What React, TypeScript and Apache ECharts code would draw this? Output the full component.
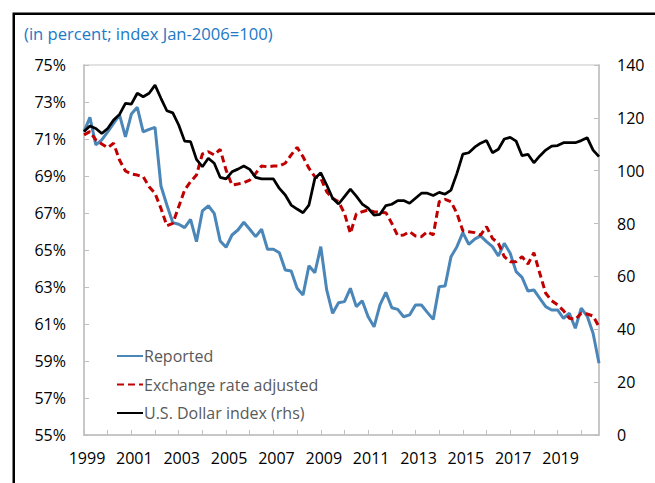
import React, { useEffect, useRef } from "react";
import * as echarts from "echarts";

const years = Array.from({ length: 22 }, (_, i) => 1999 + i);
const categories: string[] = years.flatMap((y) => ["Q1", "Q2", "Q3", "Q4"].map((q) => `${y}${q}`));

const leftTicks = { min: 55, max: 75, step: 2 };
const rightTicks = { min: 0, max: 140, step: 20 };

const reported = [
  71.39, 72.17, 70.68, 70.95, 71.39, 71.85, 72.3, 71.12, 72.35, 72.71,
  71.39, 71.52, 71.63, 68.46, 67.43, 66.48, 66.39, 66.21, 66.66, 65.45,
  67.11, 67.39, 66.98, 65.49, 65.15, 65.81, 66.08, 66.5, 66.12, 65.72,
  66.12, 65.04, 65.04, 64.85, 63.92, 63.86, 62.93, 62.57, 64.15, 63.77,
  65.18, 62.84, 61.58, 62.15, 62.21, 62.93, 61.94, 62.26, 61.39, 60.85,
  62.03, 62.71, 61.88, 61.79, 61.39, 61.49, 62.03, 62.03, 61.63, 61.25,
  63.02, 63.05, 64.64, 65.18, 65.94, 65.31, 65.59, 65.76, 65.45, 65.18,
  64.68, 65.36, 64.82, 63.83, 63.52, 62.78, 62.84, 62.39, 61.94, 61.76,
  61.76, 61.31, 61.58, 60.77, 61.85, 61.43, 60.5, 58.88,
];

const fxAdjusted = [
  71.22, 71.4, 70.95, 70.73, 70.53, 70.77, 69.86, 69.27, 69.11, 69.05,
  68.96, 68.42, 68.06, 67.25, 66.31, 66.44, 67.34, 68.24, 68.69, 69.05,
  70.19, 70.31, 70.14, 70.44, 69.32, 68.51, 68.57, 68.64, 68.78, 69.14,
  69.54, 69.5, 69.54, 69.54, 69.69, 70.14, 70.55, 70.04, 69.42, 68.96,
  68.88, 68.15, 67.79, 67.61, 66.98, 65.9, 66.95, 67.07, 67.16, 67.07,
  67.04, 67.02, 66.44, 65.77, 65.81, 65.99, 65.76, 65.72, 65.99, 65.81,
  67.61, 67.74, 67.61, 66.98, 66.04, 65.99, 65.94, 65.81, 66.26, 65.63,
  65.36, 64.64, 64.37, 64.37, 64.64, 64.24, 64.85, 63.74, 62.66, 62.26,
  62.03, 61.72, 61.31, 61.25, 61.58, 61.54, 61.43, 60.85,
];

const usdIndex = [
  114.8, 116.9, 116, 114.1, 116, 119.2, 121.3, 125.5, 125.2, 129.3,
  128, 129.3, 132.4, 127.4, 122.7, 121.9, 117.3, 111.2, 111, 104.3,
  101.5, 104.7, 102.8, 97.5, 96.9, 99.6, 100.6, 101.8, 100.5, 97.5,
  96.9, 96.9, 96.9, 93.3, 90.8, 87, 85.5, 84.1, 87, 97.1,
  99.2, 94.6, 89.6, 87.4, 90.2, 93, 90.4, 87.4, 85.8, 83.2,
  83.5, 86.8, 87.3, 88.7, 88.7, 87.7, 89.6, 91.5, 91.5, 90.6,
  91.8, 91.1, 92.7, 99, 106.3, 106.8, 108.9, 110.4, 111.4, 106.8,
  108.1, 112, 112.6, 111.2, 105.7, 106.2, 103, 105.6, 107.8, 109.3,
  109.5, 110.6, 110.6, 110.6, 111.4, 112.5, 107.8, 105.3,
];

const seriesNames = ["Reported", "Exchange rate adjusted", "U.S. Dollar index (rhs)"];
const subtitle = "(in percent; index Jan-2006=100)";

const FONT = "'Open Sans', 'Noto Sans', sans-serif";

export default function App() {
  const ref = useRef<HTMLDivElement>(null);
  useEffect(() => {
    if (!ref.current) return;
    const chart = echarts.init(ref.current, undefined, { renderer: "svg" });
    const axisGrey = "#bfbfbf";
    chart.setOption({
      animation: false,
      backgroundColor: "#ffffff",
      textStyle: { fontFamily: FONT },
      title: {
        text: subtitle,
        left: 24,
        top: 25,
        padding: 0,
        textStyle: { fontSize: 16.6, fontWeight: "normal", color: "#2079c7", fontFamily: FONT },
      },
      graphic: [
        {
          type: "rect",
          shape: { x: 13.75, y: 13.75, width: 720, height: 540 },
          style: { fill: "none", stroke: "#000", lineWidth: 2.5 },
          silent: true,
        },
      ],
      grid: {
        left: 84,
        top: 65,
        right: 56,
        bottom: 48,
        show: true,
        borderColor: "#d9d9d9",
        borderWidth: 1.5,
        containLabel: false,
      },
      legend: {
        orient: "vertical",
        left: 116,
        top: 348,
        padding: 0,
        itemWidth: 26,
        itemHeight: 14,
        itemGap: 12.5,
        data: seriesNames,
        itemStyle: { opacity: 0 },
        textStyle: { fontSize: 16, color: "#595959", fontFamily: FONT, padding: [0, 0, 0, -4] },
      },
      xAxis: {
        type: "category",
        data: categories,
        boundaryGap: false,
        axisLine: { lineStyle: { color: axisGrey, width: 1.5 } },
        axisTick: {
          inside: true,
          length: 5,
          interval: (i: number) => i % 4 === 0,
          lineStyle: { color: axisGrey },
        },
        axisLabel: {
          interval: (i: number) => i % 8 === 0,
          formatter: (v: string) => v.slice(0, 4),
          fontSize: 16,
          color: "#000",
          margin: 15,
          padding: [0, 0, 0, 6],
          fontFamily: FONT,
        },
        splitLine: { show: false },
      },
      yAxis: [
        {
          type: "value",
          min: leftTicks.min,
          max: leftTicks.max,
          interval: leftTicks.step,
          position: "left",
          axisLine: { show: true, lineStyle: { color: axisGrey, width: 1.5 } },
          axisTick: { show: true, inside: true, length: 5, lineStyle: { color: axisGrey } },
          axisLabel: { formatter: (v: number) => `${v}%`, fontSize: 16, color: "#000", margin: 18, fontFamily: FONT },
          splitLine: { show: false },
        },
        {
          type: "value",
          min: rightTicks.min,
          max: rightTicks.max,
          interval: rightTicks.step,
          position: "right",
          axisLine: { show: true, lineStyle: { color: axisGrey, width: 1.5 } },
          axisTick: { show: true, inside: true, length: 5, lineStyle: { color: axisGrey } },
          axisLabel: { fontSize: 16, color: "#000", margin: 18, fontFamily: FONT },
          splitLine: { show: false },
        },
      ],
      series: [
        {
          name: seriesNames[0],
          type: "line",
          data: reported,
          yAxisIndex: 0,
          symbol: "none",
          color: "#4a86b8",
          lineStyle: { color: "#4a86b8", width: 3 },
        },
        {
          name: seriesNames[1],
          type: "line",
          data: fxAdjusted,
          yAxisIndex: 0,
          symbol: "none",
          color: "#c00000",
          lineStyle: { color: "#c00000", width: 3, type: [7, 4] },
        },
        {
          name: seriesNames[2],
          type: "line",
          data: usdIndex,
          yAxisIndex: 1,
          symbol: "none",
          color: "#000000",
          lineStyle: { color: "#000000", width: 2.75 },
        },
      ],
    });
    return () => chart.dispose();
  }, []);
  return (
    <div
      ref={ref}
      style={{ position: "absolute", left: 0, top: 0, width: 655, height: 483, background: "#fff" }}
    />
  );
}
